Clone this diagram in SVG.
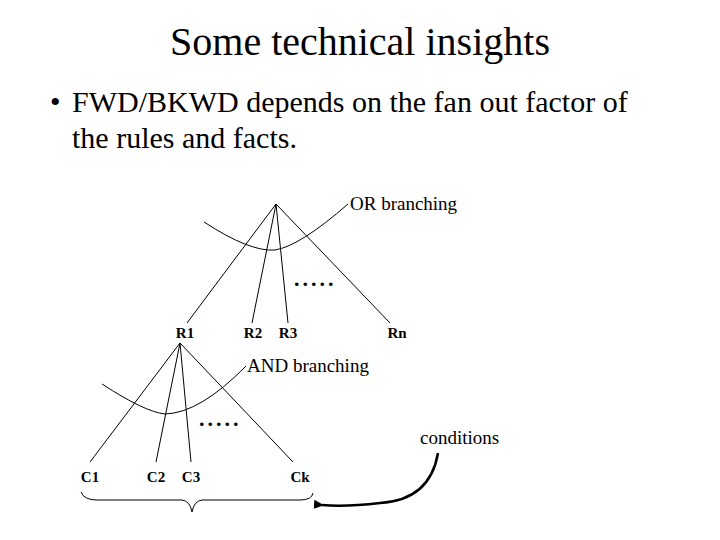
<svg xmlns="http://www.w3.org/2000/svg" width="720" height="540" viewBox="0 0 720 540">
<style>
text{font-family:"Liberation Serif","Times New Roman",Times,Tinos,"DejaVu Serif",serif;fill:#000}
.l{stroke:#000;stroke-width:1;fill:none}
.b{font-weight:bold;font-size:15px;text-anchor:middle}
.s{font-size:19px}
.d{font-size:22px;letter-spacing:3px;font-weight:bold}
</style>
<defs><marker id="ah" markerWidth="10" markerHeight="10" refX="2" refY="5" orient="auto" markerUnits="userSpaceOnUse"><path d="M10,0.5 L0,5 L10,9.5 Z" fill="#000"/></marker></defs>
<rect width="720" height="540" fill="#fff"/>
<text x="360" y="55" font-size="40" text-anchor="middle">Some technical insights</text>
<text x="50" y="112" font-size="30">•</text>
<text x="72" y="112" font-size="30">FWD/BKWD depends on the fan out factor of</text>
<text x="72" y="148" font-size="30">the rules and facts.</text>
<g id="connectors">
<path class="l" d="M276,204 L187,323 M276,204 L252,323 M276,204 L288,323 M276,204 L390,323"/>
<path class="l" d="M204,222 Q250,252 275,250 Q300,246 348,204"/>
<path class="l" d="M180,343 L90,462 M180,343 L156,462 M180,343 L191,462 M180,343 L293,462"/>
<path class="l" d="M102,384 Q145,412 165,414 Q200,413 246,366"/>
<path class="l" d="M81,492 Q84,500 97,500 L182,500 Q190,501 192,512 Q194,501 202,500 L300,500 Q312,500 313,493"/>
<path d="M438,453 Q430,500 380,503 Q345,507 322,505" stroke="#000" stroke-width="2.5" fill="none" marker-end="url(#ah)"/>
</g>
<g id="or"><text x="294" y="286" class="d">.....</text><text x="350" y="210" class="s">OR branching</text></g>
<g id="and"><text x="199" y="426" class="d">.....</text><text x="247" y="372" class="s">AND branching</text></g>
<g id="R1"><text x="185" y="338" class="b">R1</text></g>
<g id="R2"><text x="253" y="338" class="b">R2</text></g>
<g id="R3"><text x="288" y="338" class="b">R3</text></g>
<g id="Rn"><text x="397" y="338" class="b">Rn</text></g>
<g id="C1"><text x="90" y="482" class="b">C1</text></g>
<g id="C2"><text x="156" y="482" class="b">C2</text></g>
<g id="C3"><text x="191" y="482" class="b">C3</text></g>
<g id="Ck"><text x="300" y="482" class="b">Ck</text></g>
<g id="cond"><text x="420" y="444" class="s">conditions</text></g>
</svg>
